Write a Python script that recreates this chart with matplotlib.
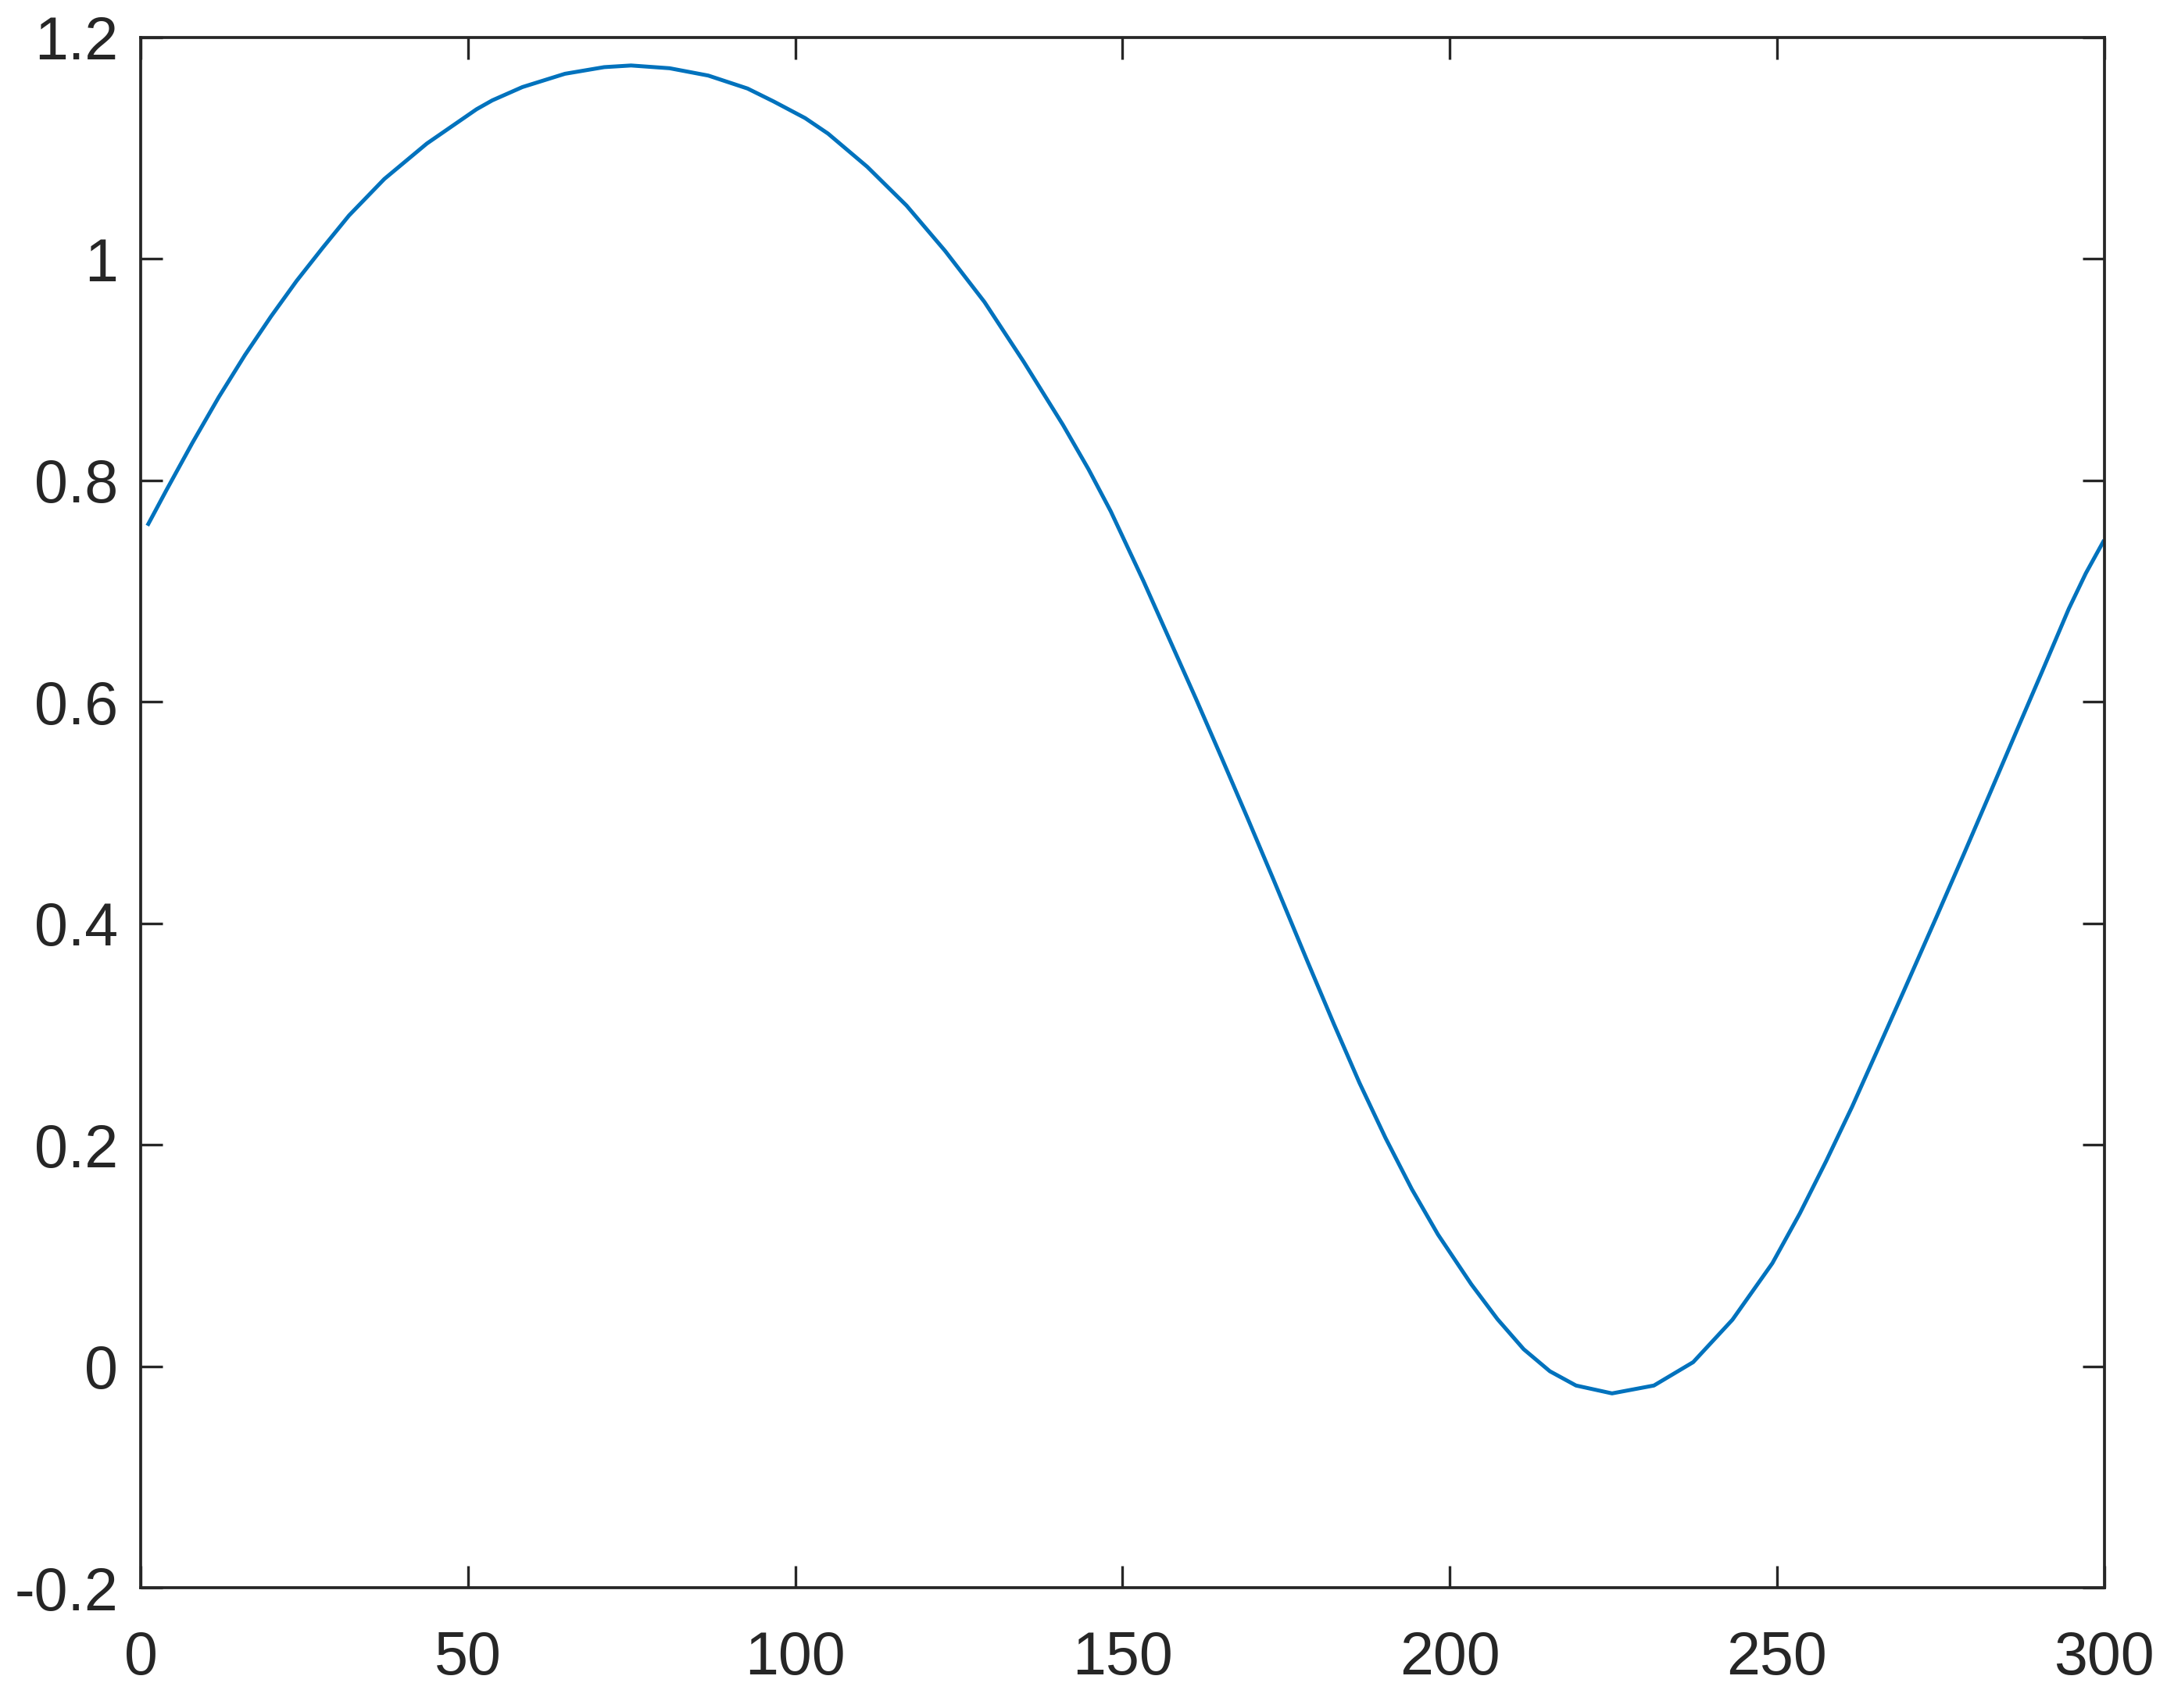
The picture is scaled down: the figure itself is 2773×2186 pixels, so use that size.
import matplotlib
matplotlib.use("Agg")
import matplotlib.pyplot as plt

# values
x_vals = [1, 2, 3.9, 7.9, 11.9, 15.9, 19.9, 23.8, 27.8, 31.8, 37.2, 43.7,
          51.3, 53.7, 58.3, 64.8, 70.8, 74.9, 80.8, 86.7, 92.7, 96.7,
          101.5, 105.0, 111.0, 117.0, 122.9, 128.9, 134.9, 140.9, 144.8,
          148.2, 153.2, 157.2, 161.2, 165.1, 169.1, 173.1, 178.3, 182.3,
          186.2, 190.2, 194.2, 198.2, 203.3, 207.3, 211.3, 215.3, 219.3,
          224.8, 231.2, 237.2, 243.2, 249.3, 253.5, 257.5, 261.5, 265.4,
          269.4, 274.4, 278.6, 282.6, 286.5, 290.5, 294.6, 297.2, 300]
y_vals = [0.759, 0.770, 0.791, 0.834, 0.875, 0.913, 0.948, 0.980, 1.010,
          1.039, 1.072, 1.104, 1.135, 1.143, 1.155, 1.167, 1.173, 1.1745,
          1.172, 1.1654, 1.1537, 1.142, 1.127, 1.113, 1.083, 1.048, 1.007,
          0.961, 0.907, 0.850, 0.810, 0.772, 0.709, 0.656, 0.603, 0.550,
          0.495, 0.439, 0.365, 0.309, 0.256, 0.206, 0.160, 0.119, 0.074,
          0.0425, 0.0154, -0.0045, -0.0174, -0.0245, -0.0174, 0.0037,
          0.042, 0.093, 0.138, 0.185, 0.2345, 0.286, 0.339, 0.406, 0.463,
          0.518, 0.572, 0.627, 0.684, 0.716, 0.746]

x_ticks = [0, 50, 100, 150, 200, 250, 300]
y_ticks = [-0.2, 0, 0.2, 0.4, 0.6, 0.8, 1.0, 1.2]
y_tick_labels = ["-0.2", "0", "0.2", "0.4", "0.6", "0.8", "1", "1.2"]

axis_color = "#262626"
plt.rcParams["font.family"] = ["Liberation Sans", "DejaVu Sans"]

fig = plt.figure(figsize=(2773 / 300, 2186 / 300), dpi=300)
ax = fig.add_axes([0.0650, 0.0704, 0.9060, 0.9078])

ax.plot(x_vals, y_vals, color="#0072BD", linewidth=1.2,
        solid_joinstyle="round", solid_capstyle="butt")

ax.set_xlim(0, 300)
ax.set_ylim(-0.2, 1.2)
ax.set_xticks(x_ticks)
ax.set_xticklabels([str(t) for t in x_ticks])
ax.set_yticks(y_ticks)
ax.set_yticklabels(y_tick_labels)

for side in ["top", "bottom", "left", "right"]:
    ax.spines[side].set_color(axis_color)
    ax.spines[side].set_linewidth(0.9)

ax.tick_params(direction="in", length=6.7, width=0.8, colors=axis_color,
               labelsize=18.5, top=True, right=True)
ax.tick_params(axis="x", pad=13)
ax.tick_params(axis="y", pad=7)

fig.savefig("out.png", dpi=300, facecolor="white")
